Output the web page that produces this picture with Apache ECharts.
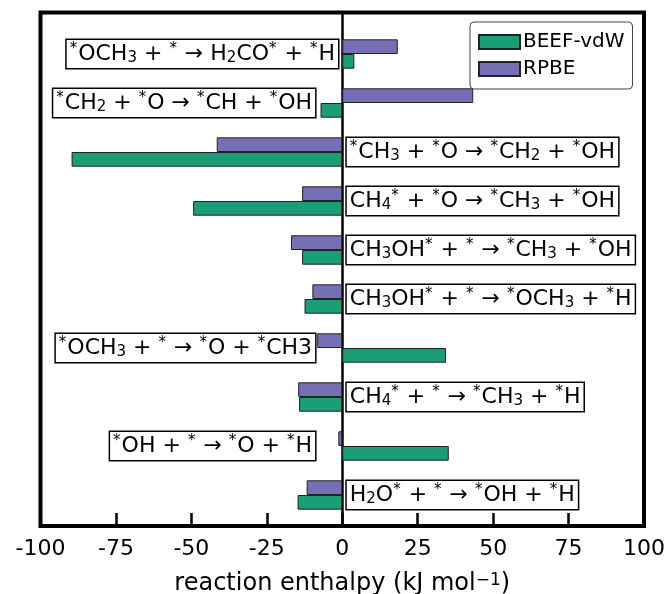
<!DOCTYPE html>
<html>
<head>
<meta charset="utf-8">
<script src="https://cdn.jsdelivr.net/npm/echarts@6/dist/echarts.min.js"></script>
<style>
html,body{margin:0;padding:0;background:#fff;}
#chart{width:669px;height:594px;}
</style>
</head>
<body>
<div id="chart"></div>
<script>
// ---- data ----
const reactions = [
  "{s|*}OCH{b|3} + {s|*} → H{b|2}CO{s|*} + {s|*}H",
  "{s|*}CH{b|2} + {s|*}O → {s|*}CH + {s|*}OH",
  "{s|*}CH{b|3} + {s|*}O → {s|*}CH{b|2} + {s|*}OH",
  "CH{b|4}{s|*} + {s|*}O → {s|*}CH{b|3} + {s|*}OH",
  "CH{b|3}OH{s|*} + {s|*} → {s|*}CH{b|3} + {s|*}OH",
  "CH{b|3}OH{s|*} + {s|*} → {s|*}OCH{b|3} + {s|*}H",
  "{s|*}OCH{b|3} + {s|*} → {s|*}O + {s|*}CH3",
  "CH{b|4}{s|*} + {s|*} → {s|*}CH{b|3} + {s|*}H",
  "{s|*}OH + {s|*} → {s|*}O + {s|*}H",
  "H{b|2}O{s|*} + {s|*} → {s|*}OH + {s|*}H"
];
const beefVdW = [4.0, -7.2, -89.7, -49.4, -13.3, -12.5, 34.4, -14.3, 35.3, -14.8];
const rpbe = [18.4, 43.4, -41.6, -13.3, -17.0, -9.9, -8.3, -14.6, -1.3, -11.8];
const xTicks = [-100, -75, -50, -25, 0, 25, 50, 75, 100];

// ---- layout (not data) ----
const labelSide = ['left','left','right','right','right','right','left','right','left','right'];
const labelAnchor = [-1.4, -9.0, 1.5, 1.5, 1.5, 1.5, -9.0, 1.5, -9.0, 1.5];

const FONT = 'DejaVu Sans';
const chart = echarts.init(document.getElementById('chart'), null, {renderer: 'canvas'});

const richStyles = {
  s: {fontSize: 15, lineHeight: 15, verticalAlign: 'top', fontFamily: FONT, color: '#000', padding: [0, 1, 0, 0]},
  b: {fontSize: 15, lineHeight: 15, verticalAlign: 'bottom', fontFamily: FONT, color: '#000'}
};

const option = {
  animation: false,
  textStyle: {fontFamily: FONT},
  grid: [
    {left: 40.5, right: 25, top: 12.5, bottom: 68, show: true, borderColor: '#000', borderWidth: 4,
     backgroundColor: 'transparent', containLabel: false, outerBoundsMode: 'none'},
    {left: 40.5, right: 25, top: 29.5, height: 490, containLabel: false, outerBoundsMode: 'none'}
  ],
  legend: {
    orient: 'vertical', left: 470, top: 22,
    padding: [10, 8, 10, 8],
    itemWidth: 41, itemHeight: 14, itemGap: 7,
    borderColor: '#444', borderWidth: 1, borderRadius: 4, backgroundColor: '#fff',
    icon: 'rect',
    textStyle: {fontFamily: FONT, fontSize: 20, color: '#000', padding: [0,0,0,-2]},
    data: ['BEEF-vdW', 'RPBE']
  },
  xAxis: [
    {
      gridIndex: 0, type: 'value', min: -100, max: 100, interval: 25,
      axisLine: {show: false},
      axisTick: {show: true, inside: true, length: 13, lineStyle: {color: '#000', width: 2.5}},
      axisLabel: {fontFamily: FONT, fontSize: 22, color: '#000', margin: 12},
      splitLine: {show: false},
      name: 'reaction enthalpy (kJ mol{sup|−1})',
      nameLocation: 'middle', nameGap: 46,
      nameTextStyle: {fontFamily: FONT, fontSize: 24, color: '#000',
        rich: {sup: {fontSize: 17, verticalAlign: 'top', lineHeight: 14, fontFamily: FONT, color: '#000'}}}
    },
    {gridIndex: 1, type: 'value', min: -100, max: 100, show: false}
  ],
  yAxis: [
    {
      gridIndex: 0, type: 'value', min: 0, max: 1,
      axisLine: {show: true, onZero: true, lineStyle: {color: '#000', width: 2.5}},
      axisTick: {show: false}, axisLabel: {show: false}, splitLine: {show: false}
    },
    {gridIndex: 1, type: 'category', data: reactions, inverse: true, show: false}
  ],
  series: [
    {
      name: 'RPBE', type: 'bar', xAxisIndex: 1, yAxisIndex: 1,
      data: rpbe, barWidth: 14.7, barGap: '0%',
      itemStyle: {color: '#7570b3', borderColor: '#222', borderWidth: 1}
    },
    {
      name: 'BEEF-vdW', type: 'bar', xAxisIndex: 1, yAxisIndex: 1,
      data: beefVdW, barWidth: 14.7, barGap: '0%',
      itemStyle: {color: '#1b9e77', borderColor: '#222', borderWidth: 1}
    },
    {
      name: 'labels', type: 'scatter', xAxisIndex: 1, yAxisIndex: 1,
      symbolSize: 0, silent: true, z: 10,
      itemStyle: {opacity: 1},
      data: reactions.map((r, i) => ({
        value: [labelAnchor[i], i],
        label: {position: labelSide[i]}
      })),
      label: {
        show: true, distance: 0,
        formatter: p => reactions[p.dataIndex],
        fontFamily: FONT, fontSize: 22, lineHeight: 24, color: '#000',
        backgroundColor: '#fff', borderColor: '#000', borderWidth: 1.5,
        padding: [2, 3, 2, 3],
        rich: richStyles
      }
    }
  ]
};
chart.setOption(option);
</script>
</body>
</html>
